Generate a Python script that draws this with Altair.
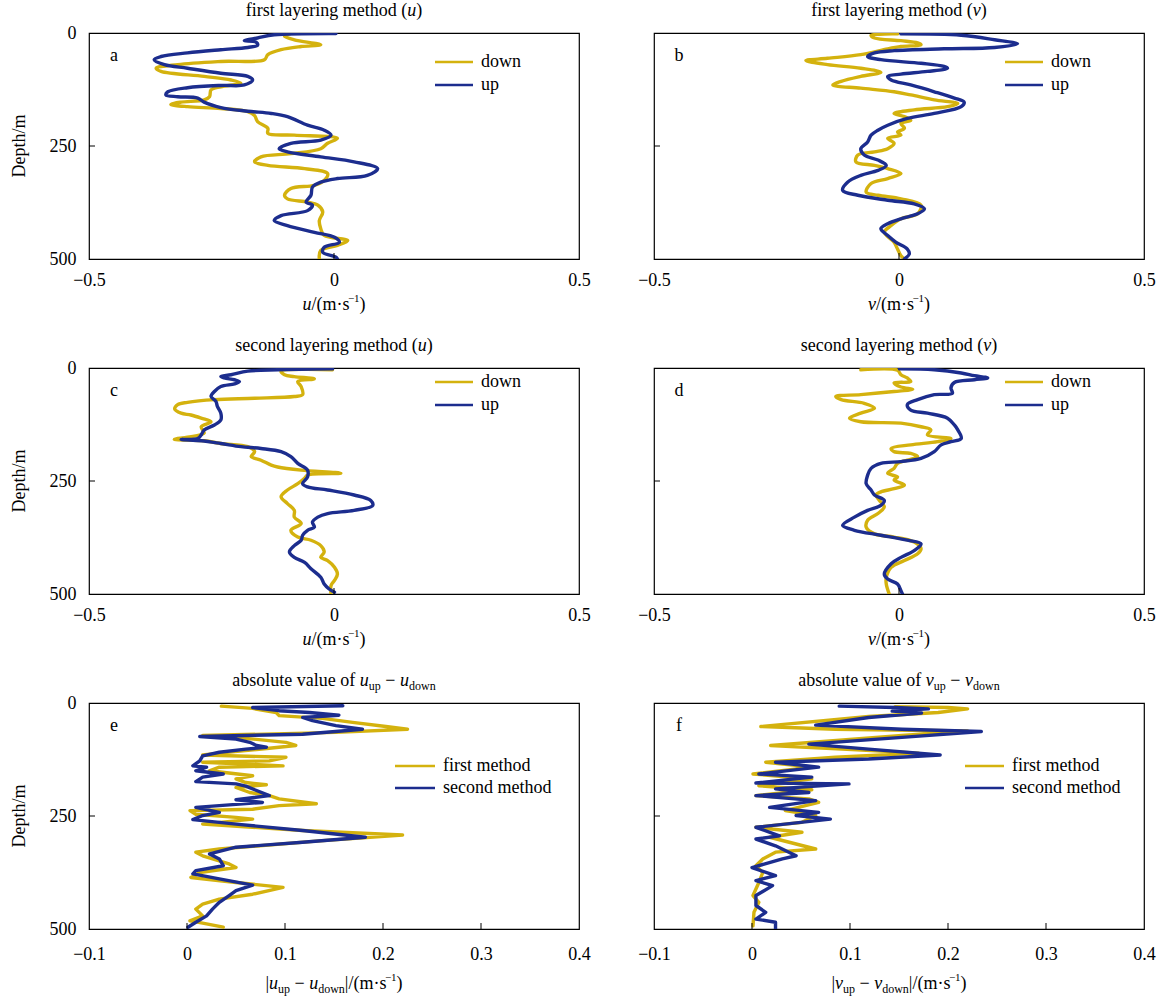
import altair as alt
import pandas as pd

# ---------------------------------------------------------------- data
# Panel a: first layering method, u component (m/s) against depth (m)
a_up_depth = [1, 4, 11, 17, 20, 27, 32, 37, 44, 52, 59, 70, 78, 89, 96, 104, 115, 116, 121, 130,
              137, 141, 144, 153, 165, 173, 178, 185, 204, 215, 226, 237, 244, 256, 263, 274, 285,
              300, 315, 322, 330, 341, 359, 374, 381, 393, 404, 415, 426, 441, 452, 463, 474, 485,
              496, 500]
a_up_u = [0.004, -0.122, -0.156, -0.183, -0.159, -0.156, -0.176, -0.231, -0.299, -0.353, -0.367,
          -0.346, -0.299, -0.231, -0.176, -0.166, -0.183, -0.231, -0.299, -0.339, -0.343, -0.319,
          -0.278, -0.265, -0.231, -0.176, -0.128, -0.095, -0.054, -0.020, -0.006, -0.027, -0.088,
          -0.112, -0.095, -0.027, 0.041, 0.089, 0.068, 0.007, -0.027, -0.044, -0.047, -0.057,
          -0.044, -0.054, -0.108, -0.122, -0.095, -0.040, 0.001, 0.011, -0.020, -0.023, 0.004,
          0.007]
a_down_depth = [2, 7, 15, 26, 30, 37, 48, 59, 63, 70, 78, 85, 96, 104, 111, 119, 126, 141, 148, 153,
                158, 163, 167, 174, 183, 196, 211, 222, 226, 233, 244, 256, 267, 274, 285, 293, 300,
                311, 326, 337, 344, 359, 367, 374, 381, 396, 415, 433, 448, 459, 470, 481, 500]
a_down_u = [-0.090, -0.101, -0.081, -0.027, -0.067, -0.108, -0.135, -0.142, -0.231, -0.319, -0.363,
            -0.353, -0.265, -0.210, -0.190, -0.231, -0.251, -0.254, -0.265, -0.312, -0.333, -0.299,
            -0.231, -0.176, -0.162, -0.156, -0.135, -0.135, -0.081, 0.007, -0.013, -0.027, -0.088,
            -0.149, -0.162, -0.135, -0.060, -0.013, -0.020, -0.040, -0.088, -0.101, -0.095, -0.054,
            -0.033, -0.023, -0.030, -0.027, -0.020, 0.028, 0.007, -0.027, -0.030]

# Panel b: first layering method, v component
b_up_depth = [2, 5, 15, 24, 32, 35, 39, 44, 52, 59, 67, 74, 78, 85, 91, 96, 104, 115, 130, 144,
              153, 163, 178, 189, 204, 215, 226, 241, 256, 270, 281, 293, 304, 315, 330, 348, 359,
              370, 378, 389, 400, 411, 422, 433, 448, 463, 478, 489, 500]
b_up_v = [0.004, 0.127, 0.195, 0.242, 0.195, 0.092, -0.010, -0.050, -0.064, -0.037, 0.045, 0.092,
          0.099, 0.058, 0.004, -0.023, -0.016, 0.024, 0.072, 0.113, 0.133, 0.127, 0.072, 0.017,
          -0.023, -0.043, -0.057, -0.064, -0.078, -0.071, -0.043, -0.026, -0.043, -0.078, -0.105,
          -0.115, -0.084, -0.023, 0.031, 0.052, 0.038, 0.004, -0.023, -0.037, -0.023, -0.006,
          0.017, 0.021, 0.011]
b_down_depth = [2, 5, 11, 17, 22, 26, 30, 35, 48, 56, 61, 70, 78, 87, 96, 107, 115, 122, 130, 137,
                148, 156, 163, 170, 178, 185, 193, 200, 211, 219, 226, 233, 244, 256, 263, 270, 285,
                293, 300, 311, 322, 333, 352, 359, 367, 381, 400, 411, 426, 441, 463, 478, 493, 500]
b_down_v = [-0.003, -0.057, -0.050, 0.004, 0.038, 0.045, 0.004, -0.023, -0.078, -0.146, -0.190,
            -0.146, -0.078, -0.037, -0.078, -0.118, -0.135, -0.078, -0.010, 0.024, 0.072, 0.120,
            0.099, 0.031, -0.010, 0.011, 0.024, 0.004, 0.011, -0.003, 0.004, -0.023, -0.010,
            -0.023, -0.050, -0.084, -0.088, -0.050, -0.023, 0.004, -0.023, -0.057, -0.067, -0.043,
            0.004, 0.045, 0.038, 0.004, -0.016, -0.030, -0.010, -0.003, 0.004, 0.011]

# Panel c: second layering method, u component
c_up_depth = [2, 4, 7, 15, 19, 22, 26, 30, 35, 41, 52, 63, 74, 85, 100, 115, 126, 137, 148, 156,
              158, 161, 167, 174, 178, 185, 196, 211, 226, 241, 256, 263, 270, 281, 293, 304, 315,
              322, 330, 341, 352, 359, 370, 381, 393, 407, 419, 430, 444, 463, 478, 489, 496]
c_up_u = [-0.003, -0.115, -0.176, -0.210, -0.231, -0.224, -0.203, -0.193, -0.203, -0.231, -0.244,
          -0.251, -0.241, -0.238, -0.231, -0.231, -0.244, -0.265, -0.271, -0.278, -0.312, -0.271,
          -0.231, -0.190, -0.149, -0.108, -0.088, -0.074, -0.054, -0.054, -0.064, -0.054, -0.013,
          0.041, 0.075, 0.079, 0.041, -0.013, -0.033, -0.044, -0.040, -0.054, -0.064, -0.067,
          -0.081, -0.091, -0.081, -0.060, -0.047, -0.027, -0.020, -0.010, 0.001]
c_down_depth = [4, 7, 15, 19, 24, 30, 41, 59, 63, 67, 70, 76, 81, 91, 100, 104, 111, 119, 130, 144,
                153, 158, 161, 167, 174, 185, 196, 204, 215, 219, 226, 233, 237, 244, 256, 270, 285,
                300, 315, 330, 344, 359, 374, 381, 393, 407, 419, 426, 441, 456, 470, 481, 500]
c_down_u = [-0.003, -0.108, -0.101, -0.081, -0.040, -0.074, -0.067, -0.064, -0.081, -0.162, -0.244,
            -0.299, -0.319, -0.325, -0.312, -0.292, -0.271, -0.251, -0.271, -0.265, -0.299, -0.326,
            -0.265, -0.231, -0.176, -0.162, -0.169, -0.149, -0.128, -0.115, -0.067, 0.014, -0.054,
            -0.060, -0.074, -0.095, -0.108, -0.095, -0.081, -0.081, -0.067, -0.088, -0.074,
            -0.047, -0.027, -0.020, -0.027, -0.013, 0.001, 0.007, 0.001, -0.006, -0.006]

# Panel d: second layering method, v component
d_up_depth = [2, 4, 11, 17, 22, 26, 32, 44, 56, 59, 70, 81, 93, 100, 111, 126, 137, 156, 163, 170,
              185, 200, 207, 211, 222, 237, 256, 270, 281, 293, 304, 315, 330, 348, 359, 370, 381,
              389, 404, 419, 433, 456, 467, 478, 493, 500]
d_up_v = [0.001, 0.072, 0.127, 0.154, 0.181, 0.154, 0.113, 0.106, 0.109, 0.072, 0.038, 0.017,
          0.024, 0.058, 0.099, 0.113, 0.120, 0.127, 0.106, 0.086, 0.072, 0.045, 0.004, -0.037,
          -0.057, -0.064, -0.067, -0.057, -0.050, -0.030, -0.037, -0.064, -0.091, -0.115, -0.091,
          -0.037, 0.017, 0.045, 0.031, 0.004, -0.016, -0.030, -0.023, -0.003, 0.004, 0.007]
d_down_depth = [4, 5, 15, 22, 30, 33, 42, 47, 52, 59, 63, 70, 78, 89, 100, 111, 119, 122, 130, 137,
                148, 156, 163, 170, 178, 185, 189, 196, 204, 211, 222, 233, 241, 248, 259, 267, 274,
                281, 293, 307, 322, 337, 352, 367, 374, 385, 400, 411, 426, 441, 463, 478, 500]
d_down_v = [-0.078, -0.003, 0.004, 0.017, 0.024, -0.010, 0.004, 0.028, -0.010, -0.078, -0.129,
            -0.118, -0.071, -0.050, -0.078, -0.101, -0.078, 0.004, 0.045, 0.065, 0.058, 0.106,
            0.079, 0.024, -0.016, -0.010, 0.024, 0.038, 0.017, -0.003, -0.010, -0.023, -0.003,
            -0.010, 0.011, -0.010, -0.037, -0.047, -0.040, -0.030, -0.043, -0.064, -0.067, -0.050,
            -0.010, 0.031, 0.045, 0.038, 0.011, -0.016, -0.026, -0.026, -0.020]

# Panel e: |u_up - u_down| for both methods
e_first_depth = [7, 12, 21, 28, 34, 43, 52, 58, 65, 72, 76, 87, 94, 100, 111, 115, 120, 128, 131,
                 139, 142, 150, 161, 168, 176, 181, 187, 198, 205, 212, 223, 227, 235, 238, 246,
                 253, 257, 268, 282, 292, 305, 323, 330, 338, 356, 364, 375, 386, 397, 408, 423,
                 434, 445, 456, 471, 482, 487, 496]
e_first_du = [0.035, 0.067, 0.091, 0.094, 0.138, 0.169, 0.203, 0.225, 0.152, 0.016, 0.050, 0.101,
              0.111, 0.084, 0.033, 0.016, 0.101, 0.084, 0.016, 0.098, 0.033, 0.023, 0.067, 0.050,
              0.060, 0.081, 0.050, 0.064, 0.084, 0.094, 0.132, 0.094, 0.067, 0.003, 0.009, 0.050,
              0.067, 0.016, 0.118, 0.220, 0.135, 0.033, 0.009, 0.016, 0.043, 0.050, 0.013, 0.004,
              0.050, 0.098, 0.067, 0.033, 0.016, 0.009, 0.016, 0.003, 0.016, 0.037]
e_second_depth = [6, 10, 17, 21, 27, 32, 39, 50, 58, 69, 74, 80, 87, 94, 98, 102, 109, 117, 128,
                  139, 142, 150, 157, 164, 174, 179, 184, 205, 214, 220, 227, 231, 242, 249, 258,
                  268, 282, 297, 308, 319, 334, 345, 360, 371, 378, 389, 403, 415, 426, 441, 456,
                  471, 485, 496]
e_second_du = [0.159, 0.067, 0.094, 0.125, 0.155, 0.118, 0.128, 0.152, 0.179, 0.118, 0.013, 0.050,
               0.064, 0.071, 0.081, 0.060, 0.033, 0.016, 0.013, 0.006, 0.020, 0.009, 0.037, 0.016,
               0.009, 0.050, 0.060, 0.084, 0.050, 0.077, 0.033, 0.009, 0.033, 0.016, 0.006, 0.050,
               0.118, 0.182, 0.118, 0.050, 0.023, 0.033, 0.037, 0.009, 0.006, 0.033, 0.067, 0.050,
               0.043, 0.033, 0.026, 0.020, 0.009, 0.001]

# Panel f: |v_up - v_down| for both methods
f_first_depth = [8, 10, 13, 21, 30, 52, 58, 62, 72, 94, 103, 111, 120, 131, 142, 157, 168, 183,
                 192, 205, 212, 220, 238, 249, 264, 275, 286, 297, 323, 330, 345, 360, 375, 397,
                 426, 441, 463, 493]
f_first_dv = [0.146, 0.200, 0.220, 0.190, 0.119, 0.009, 0.085, 0.220, 0.153, 0.019, 0.102, 0.170,
              0.085, 0.014, 0.061, 0.001, 0.061, 0.007, 0.061, 0.004, 0.058, 0.068, 0.034, 0.065,
              0.051, 0.004, 0.051, 0.018, 0.065, 0.024, 0.011, 0.004, 0.011, 0.007, 0.001, 0.007,
              0.002, 0.001]
f_second_depth = [7, 10, 13, 18, 22, 32, 49, 58, 63, 76, 91, 102, 115, 124, 131, 142, 157, 164,
                  177, 179, 190, 198, 205, 216, 231, 242, 249, 257, 275, 294, 301, 316, 338, 345,
                  364, 382, 393, 404, 426, 448, 463, 478, 485, 500]
f_second_dv = [0.089, 0.146, 0.180, 0.143, 0.173, 0.119, 0.065, 0.153, 0.234, 0.153, 0.058, 0.119,
               0.192, 0.119, 0.024, 0.068, 0.007, 0.061, 0.004, 0.099, 0.024, 0.058, 0.004, 0.065,
               0.018, 0.068, 0.045, 0.080, 0.004, 0.028, 0.004, 0.024, 0.045, 0.031, 0.000, 0.024,
               0.004, 0.021, 0.004, 0.004, 0.014, 0.004, 0.024, 0.024]

# Axis ticks
vel_ticks = [-0.5, 0, 0.5]
diff_ticks = [-0.1, 0, 0.1, 0.2, 0.3, 0.4]
depth_ticks = [0, 250, 500]

# ---------------------------------------------------------------- styling
W, H = 490, 226
SERIF = "Liberation Serif"
FS = 18
YELLOW = "#D4B20E"
BLUE = "#1C2D8E"
ONE = alt.Data(values=[{}])

# Times/Liberation Serif advance widths (per 1000 em) for laying out mixed-style text
TIMES_R = {" ": 250, "(": 333, ")": 333, "/": 278, "|": 200, "\u00b7": 250, "\u2212": 564,
           "1": 500, "a": 444, "b": 500, "c": 444, "d": 500, "e": 444, "f": 333, "g": 500,
           "h": 500, "i": 278, "l": 278, "m": 778, "n": 500, "o": 500, "p": 500, "r": 333,
           "s": 389, "t": 278, "u": 500, "v": 500, "w": 722, "y": 500}
TIMES_I = {"u": 500, "v": 444}
SIZES = {"n": FS, "i": FS, "sub": 12, "sup": 11}
SHIFT = {"n": 0, "i": 0, "sub": 4, "sup": -8}


def seg_width(text, kind):
    table = TIMES_I if kind == "i" else TIMES_R
    return sum(table.get(ch, 500) for ch in text) * SIZES[kind] / 1000


def rich_text(segments, cx, y):
    """Centred run of normal / italic / subscript / superscript pieces."""
    total = sum(seg_width(t, k) for t, k in segments)
    x = cx - total / 2
    layers = []
    for t, k in segments:
        lead = t[: len(t) - len(t.lstrip())]
        body = t.strip()
        if body:
            layers.append(
                alt.Chart(ONE)
                .mark_text(text=body, align="left", baseline="alphabetic", font=SERIF,
                           fontSize=SIZES[k], fontStyle="italic" if k == "i" else "normal",
                           color="black")
                .encode(x=alt.value(x + seg_width(lead, k)), y=alt.value(y + SHIFT[k]))
            )
        x += seg_width(t, k)
    return layers


def label(text, x, y, **kw):
    props = dict(text=text, font=SERIF, fontSize=FS, color="black")
    props.update(kw)
    return alt.Chart(ONE).mark_text(**props).encode(x=alt.value(x), y=alt.value(y))


def profile_frame(series):
    rows = []
    for name, depths, values in series:
        for i, (dep, val) in enumerate(zip(depths, values)):
            rows.append({"series": name, "idx": i, "depth": dep, "value": val})
    return pd.DataFrame(rows)


def panel(series, xdom, xticks, letter, title_segs, xtitle_segs, xtitle_y, left,
          legend_line, legend_text_x, legend_y, label_pad, curve):
    names = [s[0] for s in series]
    df = profile_frame(series)
    xenc = alt.X("value:Q",
                 scale=alt.Scale(domain=xdom, nice=False, zero=False),
                 axis=alt.Axis(values=xticks, format=".1~f", labelFont=SERIF, labelFontSize=FS,
                               labelColor="black", labelPadding=label_pad, labelFlush=False,
                               ticks=False, domain=False, grid=False, title=None))
    yaxis = (alt.Axis(values=depth_ticks, format="d", labelFont=SERIF, labelFontSize=FS,
                      labelColor="black", labelPadding=13, labelFlush=False, ticks=False,
                      domain=False, grid=False, title=None)
             if left else None)
    yenc = alt.Y("depth:Q", scale=alt.Scale(domain=[0, 500], reverse=True, nice=False, zero=False),
                 axis=yaxis)

    lines = alt.Chart(df).mark_line(strokeWidth=3.4, strokeJoin="round", strokeCap="round",
                                    interpolate=curve, clip=True).encode(
        x=xenc, y=yenc,
        color=alt.Color("series:N", scale=alt.Scale(domain=names, range=[YELLOW, BLUE]),
                        legend=None),
        order="idx:Q",
    )
    # inward tick marks on the frame
    xt = alt.Chart(pd.DataFrame({"value": xticks[1:-1]})).mark_rule(
        color="black", strokeWidth=1).encode(x=xenc, y=alt.value(H), y2=alt.value(H - 6))
    yt = alt.Chart(pd.DataFrame({"depth": [250]})).mark_rule(
        color="black", strokeWidth=1).encode(y=yenc, x=alt.value(0), x2=alt.value(6))

    layers = [lines, xt, yt]
    # legend
    for (name, colour), ly in zip(zip(names, [YELLOW, BLUE]), legend_y):
        layers.append(alt.Chart(ONE).mark_rule(color=colour, strokeWidth=2.5).encode(
            x=alt.value(legend_line[0]), x2=alt.value(legend_line[1]), y=alt.value(ly)))
        layers.append(label(name, legend_text_x, ly, align="left", baseline="middle"))
    # panel letter
    layers.append(label(letter, 25, 28, align="center", baseline="alphabetic"))
    # titles
    layers += rich_text(title_segs, W / 2, -17)
    layers += rich_text(xtitle_segs, W / 2, H + xtitle_y)
    if left:
        layers.append(label("Depth/m", -69, H / 2, align="center", baseline="middle", angle=270))
    return alt.layer(*layers).properties(width=W, height=H)


def vel_title(kind, comp):
    return [(f"{kind} layering method (", "n"), (comp, "i"), (")", "n")]


def unit_title(comp):
    return [(comp, "i"), ("/(m\u00b7s", "n"), ("\u22121", "sup"), (")", "n")]


def diff_title(comp):
    return [("absolute value of ", "n"), (comp, "i"), ("up", "sub"), (" \u2212 ", "n"),
            (comp, "i"), ("down", "sub")]


def diff_axis(comp):
    return [("|", "n"), (comp, "i"), ("up", "sub"), (" \u2212 ", "n"), (comp, "i"),
            ("down", "sub"), ("|/(m\u00b7s", "n"), ("\u22121", "sup"), (")", "n")]


pa = panel([("down", a_down_depth, a_down_u), ("up", a_up_depth, a_up_u)],
           [-0.5, 0.5], vel_ticks, "a", vel_title("first", "u"), unit_title("u"), 51, True,
           (346, 384), 392, (29, 52), 12, "catmull-rom")
pb = panel([("down", b_down_depth, b_down_v), ("up", b_up_depth, b_up_v)],
           [-0.5, 0.5], vel_ticks, "b", vel_title("first", "v"), unit_title("v"), 51, False,
           (351, 389), 397, (29, 52), 12, "catmull-rom")
pc = panel([("down", c_down_depth, c_down_u), ("up", c_up_depth, c_up_u)],
           [-0.5, 0.5], vel_ticks, "c", vel_title("second", "u"), unit_title("u"), 51, True,
           (346, 384), 392, (14, 37), 12, "catmull-rom")
pd_ = panel([("down", d_down_depth, d_down_v), ("up", d_up_depth, d_up_v)],
            [-0.5, 0.5], vel_ticks, "d", vel_title("second", "v"), unit_title("v"), 51, False,
            (351, 389), 397, (14, 37), 12, "catmull-rom")
pe = panel([("first method", e_first_depth, e_first_du),
            ("second method", e_second_depth, e_second_du)],
           [-0.1, 0.4], diff_ticks, "e", diff_title("u"), diff_axis("u"), 60, True,
           (306, 346), 354, (63, 85), 16, "linear")
pf = panel([("first method", f_first_depth, f_first_dv),
            ("second method", f_second_depth, f_second_dv)],
           [-0.1, 0.4], diff_ticks, "f", diff_title("v"), diff_axis("v"), 60, False,
           (311, 350), 358, (63, 85), 16, "linear")

chart = alt.concat(
    pa, pb, pc, pd_, pe, pf,
    columns=2,
    spacing={"row": 109, "column": 75},
    bounds="flush",
).properties(
    padding={"left": 10, "top": 1, "right": 5, "bottom": 5},
    background="white",
).configure_view(stroke="black", strokeWidth=1.2)

chart.save("out.html", embed_options={"renderer": "svg", "actions": False})
